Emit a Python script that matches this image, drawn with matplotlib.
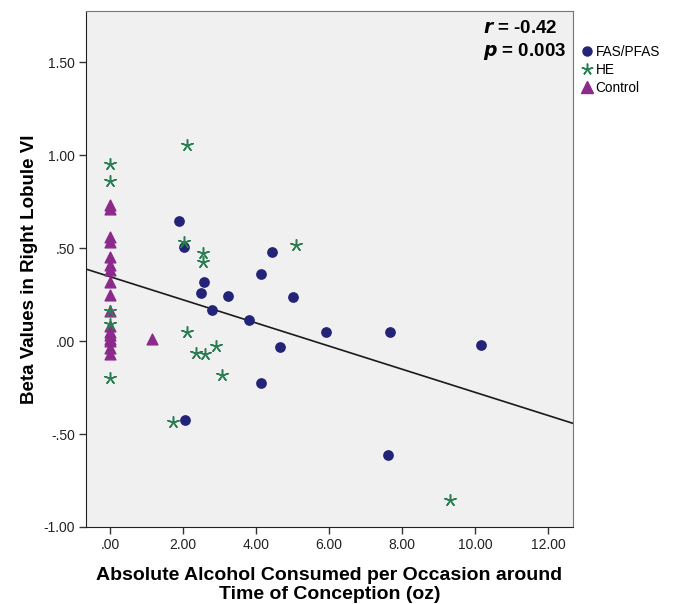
import matplotlib.pyplot as plt
from matplotlib.lines import Line2D

plt.rcParams["font.family"] = ["Liberation Sans", "DejaVu Sans"]

# FAS/PFAS group
fas_x = [1.90, 2.02, 2.57, 4.44, 4.12, 2.48, 3.22, 5.00, 2.78, 3.81, 5.91, 4.65,
         4.12, 2.06, 7.68, 10.17, 7.62]
fas_y = [0.645, 0.507, 0.319, 0.477, 0.36, 0.256, 0.242, 0.238, 0.167, 0.113, 0.05,
         -0.03, -0.228, -0.425, 0.05, -0.022, -0.613]

# heavy exposed group
he_x = [0.0, 0.0, 0.0, 0.0, 0.0, 2.12, 2.02, 2.54, 2.54, 5.09, 2.10, 2.35, 2.61,
        2.90, 3.07, 1.71, 9.32]
he_y = [0.952, 0.86, 0.163, 0.09, -0.20, 1.054, 0.534, 0.471, 0.427, 0.516, 0.05,
        -0.063, -0.07, -0.025, -0.18, -0.434, -0.855]

# controls
ctrl_x = [0.0] * 17 + [1.14]
ctrl_y = [0.73, 0.71, 0.56, 0.53, 0.45, 0.41, 0.38, 0.32, 0.25, 0.16, 0.08, 0.05,
          0.03, 0.01, -0.04, -0.07, 0.0, 0.009]

fit_intercept = 0.346
fit_slope = -0.0622

x_ticks = [0, 2, 4, 6, 8, 10, 12]
x_tick_labels = [".00", "2.00", "4.00", "6.00", "8.00", "10.00", "12.00"]
y_ticks = [-1.0, -0.5, 0.0, 0.5, 1.0, 1.5]
y_tick_labels = ["-1.00", "-.50", ".00", ".50", "1.00", "1.50"]

fas_color = "#232378"
he_color = "#2b7d52"
ctrl_color = "#8c2a8c"

figure = plt.figure(figsize=(6.75, 6.04), dpi=100)
axis = figure.add_axes([0.1274, 0.1275, 0.7215, 0.8543])
axis.set_facecolor("#f0f0f0")

xlim = (-0.66, 12.68)
axis.set_xlim(*xlim)
axis.set_ylim(-1.0, 1.775)

axis.plot(xlim, [fit_intercept + fit_slope * v for v in xlim], color="#1a1a1a",
          linewidth=1.2, zorder=2)

axis.scatter(ctrl_x, ctrl_y, marker="^", s=60, color=ctrl_color, zorder=3)
axis.scatter(he_x, he_y, marker=(5, 2, 0), s=70, color=he_color, linewidths=1.1, zorder=4)
axis.scatter(fas_x, fas_y, marker="o", s=45, color=fas_color, zorder=3)

axis.set_xticks(x_ticks)
axis.set_xticklabels(x_tick_labels)
axis.set_yticks(y_ticks)
axis.set_yticklabels(y_tick_labels)
axis.tick_params(direction="out", length=5, width=1, labelsize=10, color="#333333",
                 labelcolor="#222222", pad=3)

for side in ["left", "bottom"]:
    axis.spines[side].set_color("#222222")
for side in ["top", "right"]:
    axis.spines[side].set_color("#777777")

axis.set_xlabel("Absolute Alcohol Consumed per Occasion around\nTime of Conception (oz)",
                fontsize=14, fontweight="bold", labelpad=11, linespacing=1.15)
axis.set_ylabel("Beta Values in Right Lobule VI", fontsize=13.5, fontweight="bold",
                labelpad=4)

axis.text(0.815, 0.966, r"$\mathbfit{r}$ = -0.42", transform=axis.transAxes, ha="left",
          va="center", fontsize=13.5, fontweight="bold")
axis.text(0.815, 0.922, r"$\mathbfit{p}$ = 0.003", transform=axis.transAxes, ha="left",
          va="center", fontsize=13.5, fontweight="bold")

handles = [
    Line2D([], [], linestyle="none", marker="o", markersize=6.5, color=fas_color),
    Line2D([], [], linestyle="none", marker=(5, 2, 0), markersize=8.5, color=he_color,
           markeredgewidth=1.1),
    Line2D([], [], linestyle="none", marker="^", markersize=8, color=ctrl_color),
]
figure.legend(handles, ["FAS/PFAS", "HE", "Control"], loc="upper left",
              bbox_to_anchor=(0.851, 0.937), frameon=False, fontsize=9.8,
              handletextpad=0.15, handlelength=0.9, labelspacing=0.3, borderpad=0)

figure.savefig("out.png", dpi=100)
plt.close(figure)
